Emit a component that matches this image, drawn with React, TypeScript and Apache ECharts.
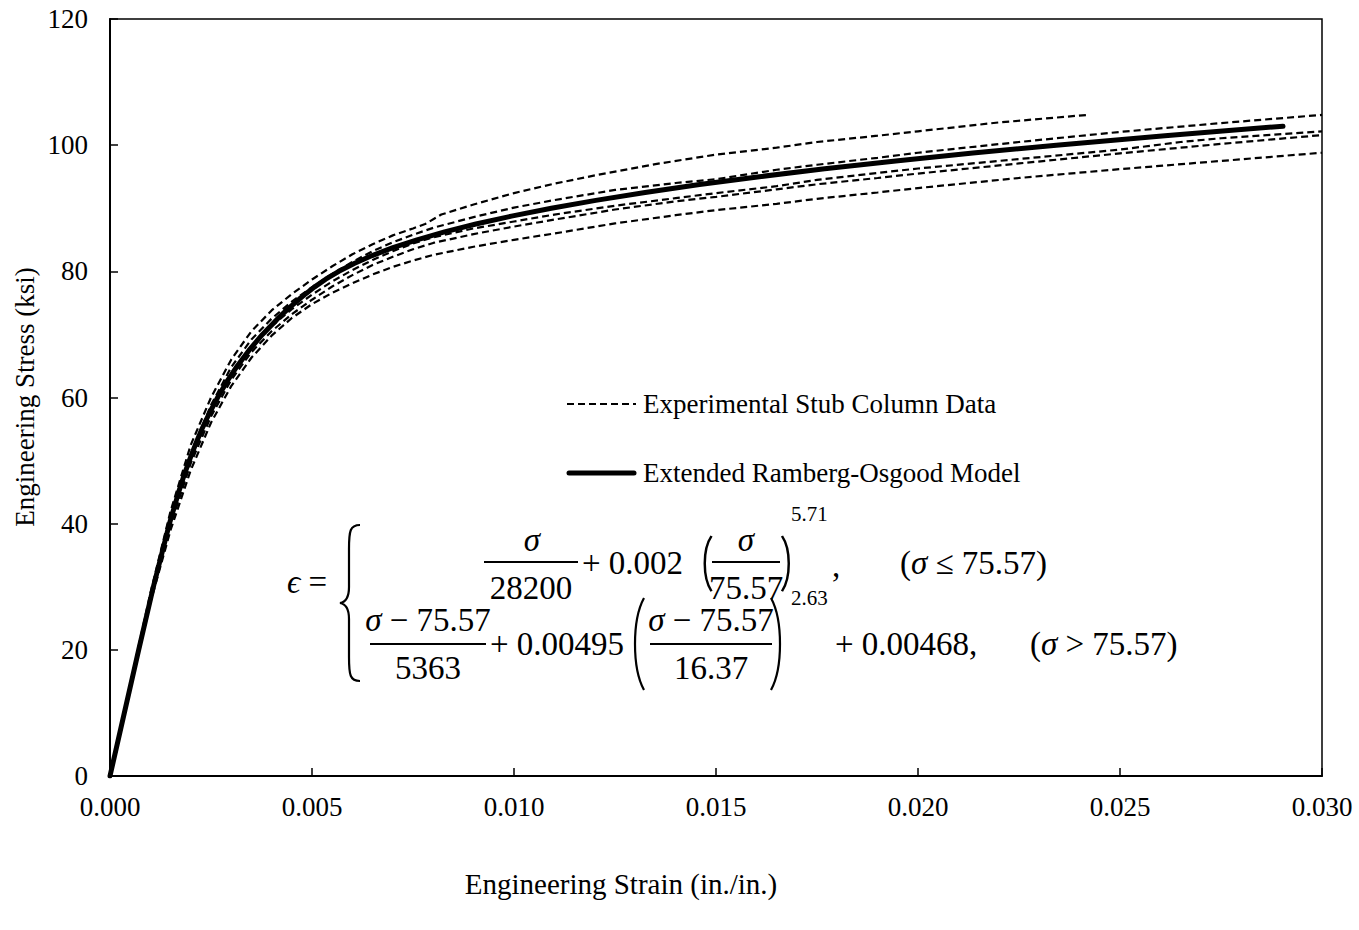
import React, { useEffect, useRef } from "react";
import * as echarts from "echarts";

// Experimental stub column curves [strain, stress ksi]
const expA: number[][] = [
  [0, 0], [0.0005, 14.5], [0.001, 29], [0.0015, 42], [0.002, 52.5], [0.0025, 60], [0.003, 66],
  [0.0035, 70.5], [0.004, 73.8], [0.0045, 76.4], [0.005, 78.7], [0.0055, 80.8], [0.006, 82.7],
  [0.0065, 84.3], [0.007, 85.7], [0.0075, 86.8], [0.0078, 87.5], [0.0082, 89], [0.009, 90.6],
  [0.010, 92.4], [0.011, 93.9], [0.012, 95.2], [0.0135, 97.0], [0.015, 98.5], [0.0165, 99.6],
  [0.0175, 100.5], [0.019, 101.5], [0.020, 102.2], [0.022, 103.6], [0.0242, 104.8],
];
const expB: number[][] = [
  [0, 0], [0.0005, 14.2], [0.001, 28.5], [0.0015, 40.8], [0.002, 51], [0.0025, 58.8], [0.003, 64.8],
  [0.0035, 69.2], [0.004, 72.5], [0.0045, 75.2], [0.005, 77.5], [0.0055, 79.6], [0.006, 81.5],
  [0.0065, 83.2], [0.007, 84.6], [0.0075, 85.8], [0.008, 86.9], [0.009, 88.6], [0.010, 90.1],
  [0.011, 91.3], [0.0125, 92.9], [0.014, 94.0], [0.015, 94.6], [0.0165, 96.1], [0.0175, 96.9],
  [0.019, 98.0], [0.020, 98.8], [0.0225, 100.5], [0.025, 102.1], [0.0275, 103.5], [0.030, 104.8],
];
const expC: number[][] = [
  [0, 0], [0.0005, 14], [0.001, 28], [0.0015, 40], [0.002, 50.2], [0.0025, 57.8], [0.003, 63.6],
  [0.0035, 68], [0.004, 71.3], [0.0045, 74], [0.005, 76.3], [0.0055, 78.4], [0.006, 80.2],
  [0.0065, 81.8], [0.007, 83.2], [0.0075, 84.4], [0.008, 85.4], [0.009, 86.8], [0.010, 87.9],
  [0.011, 89.0], [0.0125, 90.4], [0.014, 91.6], [0.015, 92.4], [0.0165, 93.5], [0.0175, 94.5],
  [0.019, 95.6], [0.020, 96.3], [0.0225, 97.8], [0.025, 99.3], [0.0265, 100.5], [0.0275, 101.1],
  [0.030, 102.2],
];
const expD: number[][] = [
  [0, 0], [0.0005, 14], [0.001, 28], [0.0015, 39.8], [0.002, 49.6], [0.0025, 57], [0.003, 62.8],
  [0.0035, 67.2], [0.004, 70.5], [0.0045, 73.2], [0.005, 75.5], [0.0055, 77.6], [0.006, 79.4],
  [0.0065, 81], [0.007, 82.3], [0.0075, 83.5], [0.008, 84.5], [0.009, 85.9], [0.010, 87.1],
  [0.011, 88.2], [0.0125, 89.8], [0.014, 91.1], [0.015, 91.8], [0.0165, 93], [0.0175, 93.8],
  [0.019, 94.8], [0.020, 95.5], [0.0225, 97.1], [0.025, 98.7], [0.0275, 100.2], [0.030, 101.6],
];
const expE: number[][] = [
  [0, 0], [0.0005, 13.8], [0.001, 27.5], [0.0015, 39], [0.002, 48.5], [0.0025, 56], [0.003, 61.8],
  [0.0035, 66.3], [0.004, 69.8], [0.0045, 72.6], [0.005, 74.8], [0.0055, 76.6], [0.006, 78.1],
  [0.0065, 79.5], [0.007, 80.7], [0.0075, 81.7], [0.008, 82.6], [0.009, 83.9], [0.010, 85.0],
  [0.011, 86.0], [0.0125, 87.6], [0.014, 88.9], [0.015, 89.7], [0.0165, 90.7], [0.0175, 91.5],
  [0.019, 92.5], [0.020, 93.2], [0.0225, 94.8], [0.025, 96.2], [0.0275, 97.5], [0.030, 98.8],
];
const experimental = [expA, expB, expC, expD, expE];

// Extended Ramberg-Osgood model [strain, stress ksi]
const model: number[][] = [
  [0, 0], [0.000355, 10], [0.00071, 20], [0.001074, 30], [0.001471, 40], [0.0017, 45],
  [0.001825, 47.5], [0.001962, 50], [0.002112, 52.5], [0.002276, 55], [0.002459, 57.5],
  [0.002664, 60], [0.002892, 62.5], [0.003151, 65], [0.003443, 67.5], [0.003774, 70],
  [0.00415, 72.5], [0.004398, 74], [0.00468, 75.57], [0.004856, 76.5], [0.005058, 77.5],
  [0.00534, 78.75], [0.005665, 80], [0.006045, 81.25], [0.006488, 82.5], [0.007003, 83.75],
  [0.007599, 85], [0.008281, 86.25], [0.009058, 87.5], [0.009937, 88.75], [0.010924, 90],
  [0.012024, 91.25], [0.013245, 92.5], [0.014592, 93.75], [0.016073, 95], [0.01769, 96.25],
  [0.019449, 97.5], [0.021359, 98.75], [0.023422, 100], [0.026111, 101.5], [0.027542, 102.25],
  [0.029035, 103],
];

const xTicks = [0, 0.005, 0.01, 0.015, 0.02, 0.025, 0.03];
const yTicks = [0, 20, 40, 60, 80, 100, 120];

const legendLabels = ["Experimental Stub Column Data", "Extended Ramberg-Osgood Model"];
const xTitle = "Engineering Strain (in./in.)";
const yTitle = "Engineering Stress (ksi)";

const SERIF = "'Liberation Serif', 'Times New Roman', serif";

echarts.graphic.registerShape(
  "brace",
  echarts.graphic.extendPath(
    "M20,0 C10,0 9,6 9,24 L9,62 C9,72 6,77 0,78 C6,79 9,84 9,94 L9,132 C9,150 10,156 20,156",
    {}
  )
);
echarts.graphic.registerShape(
  "lparen",
  echarts.graphic.extendPath("M14,0 C2,22 2,70 14,92", {})
);
echarts.graphic.registerShape(
  "rparen",
  echarts.graphic.extendPath("M0,0 C12,22 12,70 0,92", {})
);

export default function App() {
  const ref = useRef<HTMLDivElement>(null);

  useEffect(() => {
    if (!ref.current) return;
    const chart = echarts.init(ref.current, null, { renderer: "svg" });

    const eqFont = 33;
    const t = (text: string, x: number, y: number, align: string, size = eqFont, italic = false) => ({
      type: "text",
      x,
      y,
      style: {
        text,
        fill: "#000",
        font: `${italic ? "italic " : ""}${size}px ${SERIF}`,
        textAlign: align,
        textVerticalAlign: "middle",
      },
    });
    const rt = (text: string, x: number, y: number, align: string, size = eqFont) => ({
      type: "text",
      x,
      y,
      style: {
        text,
        fill: "#000",
        fontSize: size,
        fontFamily: SERIF,
        align,
        verticalAlign: "middle",
        rich: {
          i: { fontStyle: "italic", fontSize: size, fontFamily: SERIF, fill: "#000" },
        },
      },
    });
    const bar = (x1: number, x2: number, y: number) => ({
      type: "line",
      shape: { x1, y1: y, x2, y2: y },
      style: { stroke: "#000", lineWidth: 2 },
    });
    const paren = (kind: string, x: number, y: number, sx: number, sy: number) => ({
      type: kind,
      x,
      y,
      scaleX: sx,
      scaleY: sy,
      style: { stroke: "#000", fill: null, lineWidth: 2.2, strokeNoScale: true },
    });

    const series: any[] = experimental.map((d, i) => ({
      type: "line",
      name: legendLabels[0] + (i ? " " + i : ""),
      data: d,
      showSymbol: false,
      smooth: false,
      lineStyle: { color: "#000", width: 2.2, type: [7, 4] },
      z: 2,
    }));
    series.push({
      type: "line",
      name: legendLabels[1],
      data: model,
      showSymbol: false,
      smooth: false,
      lineStyle: { color: "#000", width: 5, cap: "round", join: "round" },
      z: 3,
    });

    chart.setOption({
      animation: false,
      backgroundColor: "#fff",
      grid: {
        left: 110,
        top: 19,
        right: 37,
        bottom: 154,
        show: true,
        borderColor: "#000",
        borderWidth: 1.5,
        containLabel: false,
      },
      xAxis: {
        type: "value",
        min: xTicks[0],
        max: xTicks[xTicks.length - 1],
        interval: 0.005,
        axisLine: { show: true, lineStyle: { color: "#000", width: 2 } },
        axisTick: { show: true, inside: true, length: 8, lineStyle: { color: "#000", width: 1.5 } },
        splitLine: { show: false },
        axisLabel: {
          color: "#000",
          fontSize: 27,
          fontFamily: SERIF,
          margin: 17,
          formatter: (v: number) => v.toFixed(3),
        },
      },
      yAxis: {
        type: "value",
        min: yTicks[0],
        max: yTicks[yTicks.length - 1],
        interval: 20,
        axisLine: { show: true, lineStyle: { color: "#000", width: 2 } },
        axisTick: { show: true, inside: true, length: 8, lineStyle: { color: "#000", width: 1.5 } },
        splitLine: { show: false },
        axisLabel: { color: "#000", fontSize: 27, fontFamily: SERIF, margin: 22 },
      },
      series,
      graphic: [
        // axis titles
        {
          type: "text",
          x: 621,
          y: 884,
          style: { text: xTitle, fill: "#000", font: `29px ${SERIF}`, textAlign: "center", textVerticalAlign: "middle" },
        },
        {
          type: "text",
          x: 25,
          y: 397,
          rotation: Math.PI / 2,
          style: { text: yTitle, fill: "#000", font: `27px ${SERIF}`, textAlign: "center", textVerticalAlign: "middle" },
        },
        // legend
        {
          type: "line",
          shape: { x1: 567, y1: 404, x2: 636, y2: 404 },
          style: { stroke: "#000", lineWidth: 2.2, lineDash: [7, 4] },
        },
        t(legendLabels[0], 643, 404, "left", 27),
        {
          type: "line",
          shape: { x1: 569, y1: 473, x2: 634, y2: 473 },
          style: { stroke: "#000", lineWidth: 5, lineCap: "round" },
        },
        t(legendLabels[1], 643, 473, "left", 27),
        // equation
        rt("{i|ϵ} =", 287, 582, "left"),
        { type: "brace", x: 340, y: 525, style: { stroke: "#000", fill: null, lineWidth: 2.2 } },
        // row 1
        t("σ", 532, 540, "center", eqFont, true),
        bar(484, 578, 562),
        t("28200", 531, 588, "center"),
        t("+ 0.002", 582, 563, "left"),
        paren("lparen", 701, 536, 0.75, 0.6),
        t("σ", 746, 540, "center", eqFont, true),
        bar(712, 780, 562),
        t("75.57", 746, 588, "center"),
        paren("rparen", 782, 536, 0.75, 0.6),
        t("5.71", 791, 514, "left", 21),
        t(",", 832, 566, "left"),
        rt("({i|σ} ≤ 75.57)", 900, 563, "left"),
        // row 2
        rt("{i|σ} − 75.57", 428, 620, "center"),
        bar(370, 486, 644),
        t("5363", 428, 668, "center"),
        t("+ 0.00495", 490, 644, "left"),
        paren("lparen", 630, 598, 1, 1),
        rt("{i|σ} − 75.57", 711, 620, "center"),
        bar(650, 772, 644),
        t("16.37", 711, 668, "center"),
        paren("rparen", 771, 598, 1, 1),
        t("2.63", 791, 598, "left", 21),
        t("+ 0.00468,", 835, 644, "left"),
        rt("({i|σ} > 75.57)", 1030, 644, "left"),
      ],
    });

    return () => chart.dispose();
  }, []);

  return (
    <div
      ref={ref}
      style={{ position: "fixed", left: 0, top: 0, width: 1359, height: 930, background: "#fff" }}
    />
  );
}
